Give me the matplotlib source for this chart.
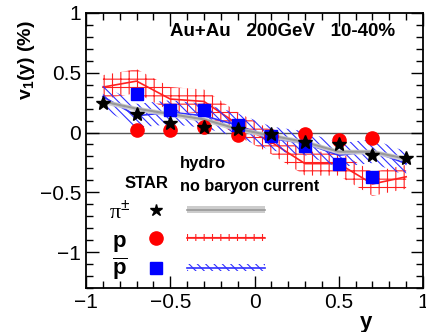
import matplotlib
matplotlib.use("Agg")
import matplotlib.pyplot as plt
import numpy as np
from matplotlib.ticker import MultipleLocator

plt.rcParams['font.family'] = ['Liberation Sans', 'DejaVu Sans']
plt.rcParams['mathtext.fontset'] = 'custom'
plt.rcParams['mathtext.rm'] = 'Liberation Sans'
plt.rcParams['mathtext.bf'] = 'Liberation Sans:bold'
plt.rcParams['mathtext.it'] = 'Liberation Sans:italic'
plt.rcParams['hatch.linewidth'] = 0.8

# STAR data
y_pi = [-0.9, -0.7, -0.5, -0.3, -0.1, 0.1, 0.3, 0.5, 0.7, 0.9]
v1_pi = [0.25, 0.155, 0.08, 0.045, 0.03, -0.01, -0.08, -0.10, -0.19, -0.21]
y_p = [-0.7, -0.5, -0.3, -0.1, 0.1, 0.3, 0.5, 0.7]
v1_p = [0.02, 0.02, 0.05, -0.02, -0.03, -0.01, -0.06, -0.045]
v1_pbar = [0.32, 0.19, 0.19, 0.06, -0.03, -0.11, -0.26, -0.37]

# hydro (no baryon current)
y_hyd = [-0.9, -0.7, -0.5, -0.3, -0.1, 0.1, 0.3, 0.5, 0.7, 0.9]
hyd_pi = [0.26, 0.20, 0.155, 0.11, 0.03, -0.025, -0.08, -0.16, -0.16, -0.22]
hyd_pi_err = [0.02] * 10
hyd_p = [0.38, 0.43, 0.28, 0.26, 0.07, -0.08, -0.26, -0.26, -0.43, -0.37]
hyd_p_err = [0.1] * 10
hyd_pbar = [0.30, 0.14, 0.17, 0.14, 0.06, -0.05, -0.09, -0.19, -0.155, -0.26]
hyd_pbar_err = [0.1] * 10

fig = plt.figure(figsize=(4.26, 3.32), dpi=100)
ax = fig.add_axes([0.202, 0.1325, 0.791, 0.8285])
ax.set_xlim(-1, 1)
ax.set_ylim(-1.3, 1.0)

ax.axhline(0, color='#555555', lw=1.0, zorder=1)

yh = np.array(y_hyd)
def band(vals, errs, color, hatch, lw, face='none', z=2):
    v = np.array(vals); e = np.array(errs)
    ax.fill_between(yh, v - e, v + e, facecolor=face, edgecolor=color,
                    hatch=hatch, linewidth=0, zorder=z)
    ax.plot(yh, v, color=color, lw=lw, zorder=z + 0.1)

band(hyd_p, hyd_p_err, '#ff2020', '++', 1.2, z=2)
band(hyd_pbar, hyd_pbar_err, '#3030ff', '\\\\\\\\', 1.2, z=3)
ax.fill_between(yh, np.array(hyd_pi) - np.array(hyd_pi_err),
                np.array(hyd_pi) + np.array(hyd_pi_err),
                color='#cccccc', linewidth=0, zorder=4, alpha=0.9)
ax.plot(yh, hyd_pi, color='#999999', lw=1.5, zorder=4.1)

ax.plot(y_p, v1_p, 'o', color='red', ms=9.5, mec='red', ls='none', zorder=6)
ax.plot(y_p, v1_pbar, 's', color='blue', ms=9, mec='blue', ls='none', zorder=7)
ax.plot(y_pi, v1_pi, '*', color='black', ms=10, ls='none', zorder=8)

# legend (hand-drawn)
ax.text(-0.64, -0.43, 'STAR', fontsize=12, fontweight='bold', ha='center', va='center')
ax.text(-0.445, -0.255, 'hydro', fontsize=12, fontweight='bold', ha='left', va='center')
ax.text(-0.445, -0.45, 'no baryon current', fontsize=11.7, fontweight='bold', ha='left', va='center')

ax.text(-0.80, -0.67, r'π$^{\pm}$', fontsize=16, ha='center', va='center',
        family=['Liberation Serif', 'DejaVu Serif'])
ax.text(-0.80, -0.93, r'$\mathbf{p}$', fontsize=16, ha='center', va='center')
ax.text(-0.80, -1.14, r'$\mathbf{\overline{p}}$', fontsize=16, ha='center', va='center')

ax.plot([-0.585], [-0.65], '*', color='black', ms=9, zorder=8)
ax.plot([-0.585], [-0.88], 'o', color='red', ms=9.5, zorder=8)
ax.plot([-0.585], [-1.13], 's', color='blue', ms=9, zorder=8)

lx = np.array([-0.40, 0.06])
ax.fill_between(lx, [-0.675, -0.675], [-0.615, -0.615], color='#cccccc', linewidth=0)
ax.plot(lx, [-0.645, -0.645], color='#999999', lw=1.2)
ax.fill_between(lx, [-0.91, -0.91], [-0.85, -0.85], facecolor='none', edgecolor='#ff2020',
                hatch='++', linewidth=0)
ax.plot(lx, [-0.88, -0.88], color='#ff2020', lw=1.2)
ax.fill_between(lx, [-1.16, -1.16], [-1.10, -1.10], facecolor='none', edgecolor='#3030ff',
                hatch='\\\\\\\\', linewidth=0)
ax.plot(lx, [-1.13, -1.13], color='#3030ff', lw=1.2)

ax.text(0.165, 0.845, 'Au+Au   200GeV   10-40%', fontsize=13.5, fontweight='bold',
        ha='center', va='center')

ax.xaxis.set_major_locator(MultipleLocator(0.5))
ax.xaxis.set_minor_locator(MultipleLocator(0.1))
ax.yaxis.set_major_locator(MultipleLocator(0.5))
ax.yaxis.set_minor_locator(MultipleLocator(0.1))
ax.tick_params(which='both', direction='in', top=True, right=True, labelsize=15, width=1.0)
ax.tick_params(which='major', length=9)
ax.tick_params(which='minor', length=5)
ax.set_xticks([-1, -0.5, 0, 0.5, 1])
ax.set_xticklabels(['\u22121', '\u22120.5', '0', '0.5', '1'])
ax.set_yticks([-1, -0.5, 0, 0.5, 1])
ax.set_yticklabels(['\u22121', '\u22120.5', '0', '0.5', '1'])
for s in ax.spines.values():
    s.set_linewidth(1.3)

fig.text(0.062, 0.82, r'$\mathbf{v_1(y)\ (\%)}$', rotation=90, fontsize=14,
         ha='center', va='center')
fig.text(0.86, 0.03, 'y', fontsize=16, fontweight='bold', ha='center', va='center')

fig.savefig('out.png', dpi=100)
